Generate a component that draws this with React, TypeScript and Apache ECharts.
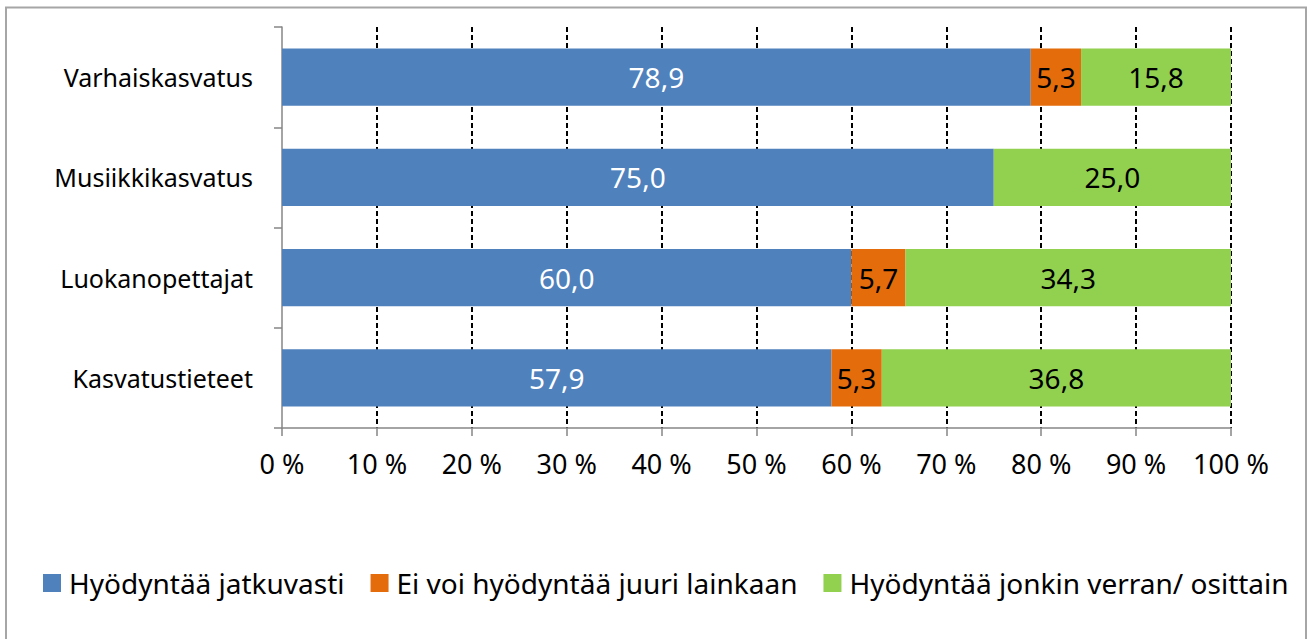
import React, { useEffect, useRef } from "react";
import * as echarts from "echarts";

const categories = ["Varhaiskasvatus", "Musiikkikasvatus", "Luokanopettajat", "Kasvatustieteet"];
const seriesNames = ["Hyödyntää jatkuvasti", "Ei voi hyödyntää juuri lainkaan", "Hyödyntää jonkin verran/ osittain"];
const jatkuvasti = [78.9, 75.0, 60.0, 57.9];
const eiVoi = [5.3, 0, 5.7, 5.3];
const jonkinVerran = [15.8, 25.0, 34.3, 36.8];
const colors = ["#4f81bd", "#e46c0a", "#92d050"];
const labelColors = ["#ffffff", "#000000", "#000000"];

const FONT = "'Noto Sans', sans-serif";

export default function App() {
  const ref = useRef<HTMLDivElement>(null);
  useEffect(() => {
    if (!ref.current) return;
    const chart = echarts.init(ref.current, undefined, { renderer: "svg" });
    const data = [jatkuvasti, eiVoi, jonkinVerran];
    chart.setOption({
      animation: false,
      backgroundColor: "#ffffff",
      textStyle: { fontFamily: FONT },
      graphic: [
        {
          type: "rect",
          shape: { x: 6, y: 7.5, width: 1300, height: 660 },
          style: { fill: "none", stroke: "#a6a6a6", lineWidth: 2 },
          silent: true,
        },
      ],
      grid: { left: 282, right: 79, top: 27, bottom: 211 },
      xAxis: {
        type: "value",
        min: 0,
        max: 100,
        interval: 10,
        axisLine: { show: true, lineStyle: { color: "#868686", width: 1.5 } },
        axisTick: { show: true, length: 8, lineStyle: { color: "#868686", width: 1.5 } },
        axisLabel: {
          formatter: (v: number) => `${v} %`,
          fontSize: 27,
          color: "#000",
          margin: 22,
          fontFamily: FONT,
        },
        splitLine: {
          show: true,
          showMinLine: false,
          lineStyle: { color: "#000", type: [5, 3], width: 2 },
        },
      },
      yAxis: {
        type: "category",
        data: categories,
        inverse: true,
        axisLine: { show: true, lineStyle: { color: "#868686", width: 1.5 } },
        axisTick: { show: true, length: 8, lineStyle: { color: "#868686", width: 1.5 } },
        axisLabel: { fontSize: 25, color: "#000", margin: 29, fontFamily: FONT },
        splitLine: { show: false },
      },
      legend: {
        bottom: 37,
        left: 38,
        icon: "rect",
        itemWidth: 18,
        itemHeight: 18,
        itemGap: 26,
        textStyle: { fontSize: 28, color: "#000", fontFamily: FONT, padding: [0, 0, 0, 3] },
        data: seriesNames,
      },
      series: seriesNames.map((name, i) => ({
        name,
        type: "bar",
        stack: "total",
        barWidth: "57%",
        data: data[i],
        itemStyle: { color: colors[i] },
        label: {
          show: true,
          position: "inside",
          color: labelColors[i],
          fontSize: 28,
          fontFamily: FONT,
          formatter: (p: any) => (p.value ? Number(p.value).toFixed(1).replace(".", ",") : ""),
        },
      })),
    });
    return () => chart.dispose();
  }, []);
  return (
    <div
      ref={ref}
      style={{ position: "fixed", left: 0, top: 0, width: 1310, height: 639 }}
    />
  );
}
